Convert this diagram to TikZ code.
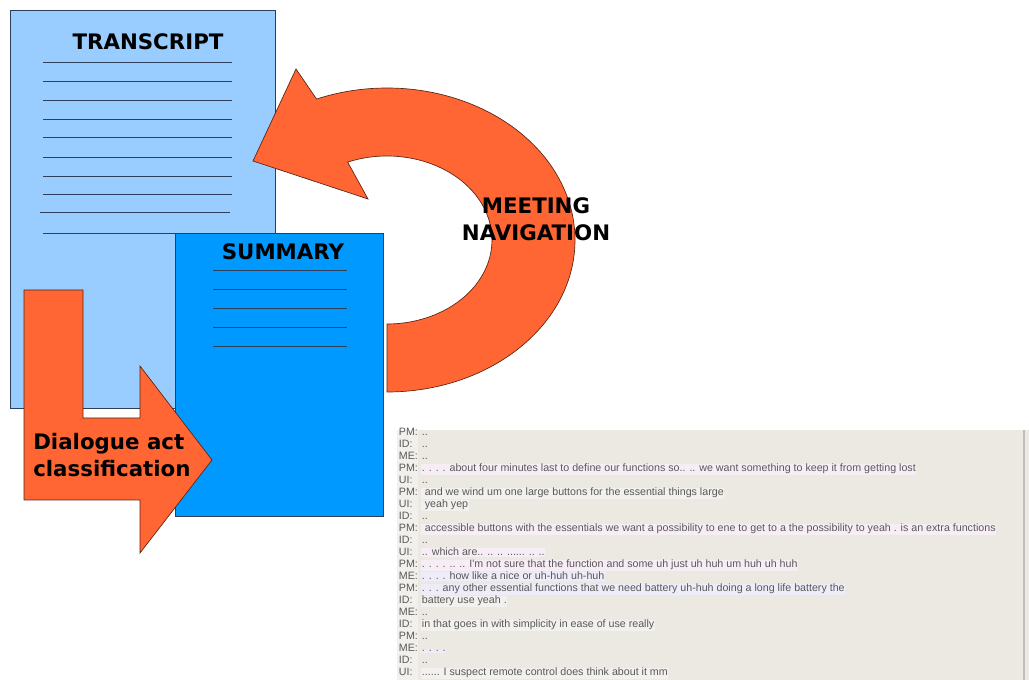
\documentclass[tikz,border=0pt]{standalone}
\usepackage{fontspec}
\usetikzlibrary{positioning}
\newfontfamily\headfont{DejaVu Sans}
\newfontfamily\chatfont{Liberation Sans}
\definecolor{pagelight}{HTML}{99CCFF}
\definecolor{pagedark}{HTML}{0099FF}
\definecolor{arroworange}{HTML}{FF6633}
\definecolor{panelgrey}{HTML}{ECE9E2}
\definecolor{labelgrey}{HTML}{F2F0EC}
\definecolor{rowpink}{HTML}{F7EDF5}
\definecolor{rowlilac}{HTML}{EDECF8}
\definecolor{rowpale}{HTML}{F3F1EE}
\definecolor{edgeblue}{HTML}{2E3F5C}

\begin{document}
\begin{tikzpicture}[x=0.75pt, y=-0.75pt]
	\tikzset{page/.style={draw=edgeblue, line width=0.6pt}, rule/.style={draw=edgeblue, line width=0.7pt},
		bigarrow/.style={fill=arroworange, draw=black!65!arroworange, line width=0.5pt, line join=miter},
		title/.style={font=\headfont\bfseries\fontsize{16}{20}\selectfont, inner sep=0pt},
		chatrow/.style={font=\chatfont\fontsize{8}{9}\selectfont, text=black!65, inner sep=0.5pt, anchor=base west} }
	\useasboundingbox (0,0) rectangle (1029,680);

	% transcript page
	\draw[page, fill=pagelight] (10,10) rectangle (275,408);
	\node[title] (transcript) at (148,42) {TRANSCRIPT};
	\foreach \y in {62,81,100,119,137,157,176,194,233}
		\draw[rule] (43,\y) -- (232,\y);
	\draw[rule] (40,212) -- (230,212);

	% meeting navigation arrow
	\draw[bigarrow] (387,392) arc[start angle=90, end angle=-112, x radius=188, y radius=152]
		-- (296,69) -- (253,161) -- (368,199)
		-- ([shift={(387,240)}]-112:105 and 84) arc[start angle=-112, end angle=90, x radius=105, y radius=84] -- cycle;
	\node[title, align=center] (navigation) at (536,219) {MEETING\\NAVIGATION};

	% summary page
	\draw[page, fill=pagedark] (175,233) rectangle (383,516);
	\node[title] (summary) at (283,252) {SUMMARY};
	\foreach \y in {270,289,308,327,346}
		\draw[rule] (213,\y) -- (347,\y);

	% dialogue act arrow
	\draw[bigarrow] (24,290) -- (83,290) -- (83,418) -- (140,418) -- (140,366) -- (212,460)
		-- (140,553) -- (140,500) -- (24,500) -- cycle;
	\node[title, align=left, anchor=west] (dialogue) at (33,455) {Dialogue act\\classification};

	% transcript viewer
	\fill[panelgrey] (397,430) rectangle (1029,680);
	\fill[labelgrey] (397,430) rectangle (418,680);
	\draw[black!25, line width=1pt] (1024,430) -- (1024,680);
	\foreach \who/\said/\tint [count=\i] in {
		PM/{..}/panelgrey, ID/{..}/panelgrey, ME/{..}/panelgrey,
		PM/{. . . . about four minutes last to define our functions so.. .. we want something to keep it from getting lost}/rowpink,
		UI/{..}/panelgrey,
		PM/{\ and we wind um one large buttons for the essential things large}/rowpale,
		UI/{\ yeah yep}/rowpale, ID/{..}/panelgrey,
		PM/{\ accessible buttons with the essentials we want a possibility to ene to get to a the possibility to yeah . is an extra functions}/rowpink,
		ID/{..}/panelgrey,
		UI/{.. which are.. .. .. ...... .. ..}/rowpink,
		PM/{. . . . .. .. I'm not sure that the function and some uh just uh huh um huh uh huh}/rowpink,
		ME/{. . . . how like a nice or uh-huh uh-huh}/rowlilac,
		PM/{. . . any other essential functions that we need battery uh-huh doing a long life battery the}/rowlilac,
		ID/{battery use yeah .}/rowpale, ME/{..}/panelgrey,
		ID/{in that goes in with simplicity in ease of use really}/rowpale,
		PM/{..}/panelgrey, ME/{. . . .}/rowlilac, ID/{..}/panelgrey,
		UI/{...... I suspect remote control does think about it mm}/rowpale}
	{
		\node[chatrow] (who\i) at (398,{436+12*(\i-1)}) {\who:};
		\node[chatrow, fill=\tint] (row\i) at (421,{436+12*(\i-1)}) {\said};
	}
\end{tikzpicture}
\end{document}
